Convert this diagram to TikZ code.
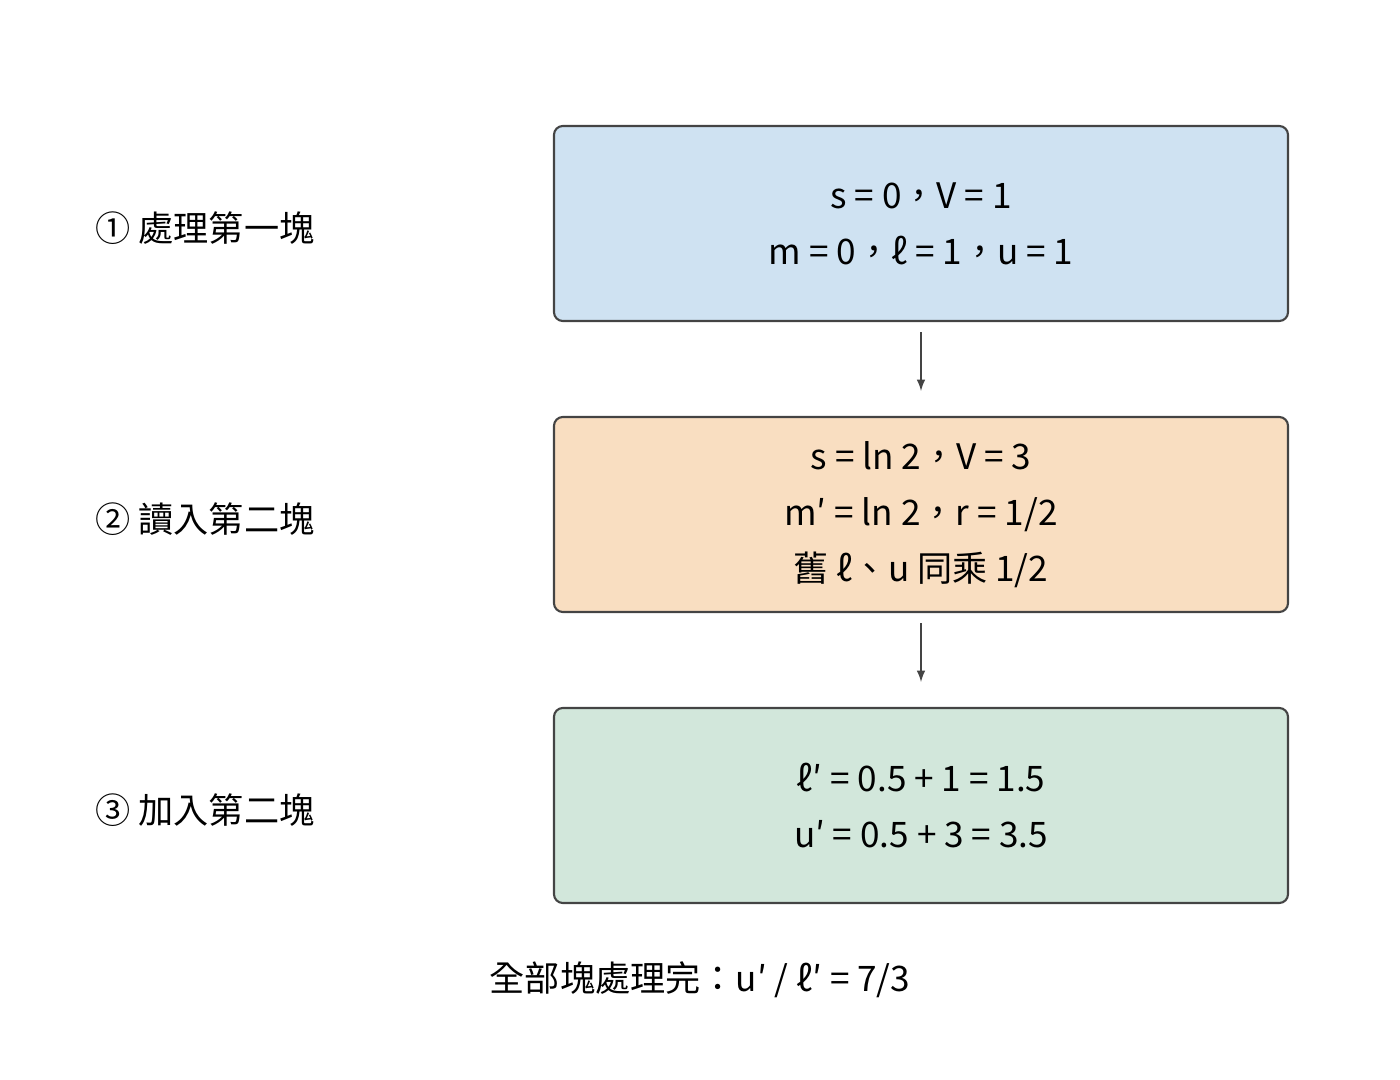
\documentclass[tikz,border=0pt]{standalone}
\usepackage{fontspec}
\setmainfont{Noto Sans CJK TC}
\usetikzlibrary{positioning}
\definecolor{stepblue}{HTML}{CFE2F2}
\definecolor{steporange}{HTML}{F9DEC1}
\definecolor{stepgreen}{HTML}{D2E7DB}
\definecolor{edgegray}{HTML}{444444}
\begin{document}
\begin{tikzpicture}
    \tikzset{every node/.style={font=\fontsize{20}{32}\selectfont, text centered},
             phase/.style={draw=edgegray, line width=1.2pt, rounded corners=5pt,
                          minimum width=14.68cm, minimum height=3.9cm, align=center},
             arr/.style={->, >=latex, draw=edgegray, line width=1.2pt}}
    \useasboundingbox (0,0) rectangle (28,-21.6);

    \node[phase, fill=stepblue] (first) at (18.42, -4.47) {s = 0，V = 1\\m = 0，ℓ = 1，u = 1};
    \node[phase, fill=steporange] (second) at (18.42, -10.29) {s = ln 2，V = 3\\m′ = ln 2，r = 1/2\\舊 ℓ、u 同乘 1/2};
    \node[phase, fill=stepgreen] (third) at (18.42, -16.11) {ℓ′ = 0.5 + 1 = 1.5\\u′ = 0.5 + 3 = 3.5};

    \node (lone) at (4.1, -4.56) {① 處理第一塊};
    \node (ltwo) at (4.1, -10.38) {② 讀入第二塊};
    \node (lthree) at (4.1, -16.2) {③ 加入第二塊};

    \node (result) at (14, -19.6) {全部塊處理完：u′ / ℓ′ = 7/3};

    \draw[arr, shorten <=0.2cm, shorten >=0.5cm] (first.south) -- (second.north);
    \draw[arr, shorten <=0.2cm, shorten >=0.5cm] (second.south) -- (third.north);
\end{tikzpicture}
\end{document}
